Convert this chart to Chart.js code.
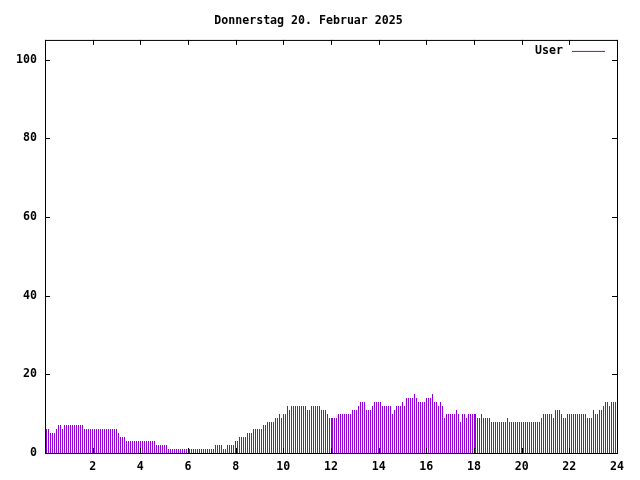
<!DOCTYPE html>
<html>
<head>
<meta charset="utf-8">
<script src="https://cdn.jsdelivr.net/npm/chart.js@4/dist/chart.umd.min.js"></script>
<style>
  body { margin: 0; background: #fff; }
  canvas { display: block; }
</style>
</head>
<body>
<canvas id="user-chart" width="640" height="480"></canvas>
<script>
// 5-minute samples, one array per 4 hours
const users00to04 = [6,6,5,5,5,6,7,7,6,7,7,7,7,7,7,7,7,7,7,6,6,6,6,6,6,6,6,6,6,6,6,6,6,6,6,6,5,4,4,4,3,3,3,3,3,3,3,3];
const users04to08 = [3,3,3,3,3,3,3,2,2,2,2,2,2,1,1,1,1,1,1,1,1,1,1,1,1,1,1,1,1,1,1,1,1,1,1,1,1,2,2,2,2,1,1,2,2,2,2,3];
const users08to12 = [3,4,4,4,4,5,5,5,6,6,6,6,6,7,7,8,8,8,8,9,9,10,9,10,10,12,11,12,12,12,12,12,12,12,12,11,11,12,12,12,12,12,11,11,11,10,9,9];
const users12to16 = [9,9,9,10,10,10,10,10,10,10,11,11,11,12,13,13,13,11,11,11,12,13,13,13,13,12,12,12,12,12,10,11,12,12,12,13,12,14,14,14,14,15,14,13,13,13,13,14];
const users16to20 = [14,14,15,13,13,12,13,12,9,10,10,10,10,10,11,10,8,10,10,9,10,10,10,10,10,9,9,10,9,9,9,9,8,8,8,8,8,8,8,8,9,8,8,8,8,8,8,8];
const users20to24 = [8,8,8,8,8,8,8,8,8,9,10,10,10,10,10,9,11,11,11,10,9,9,10,10,10,10,10,10,10,10,10,10,9,9,9,11,10,10,11,11,12,13,13,12,13,13,13,13];

const seriesLabel = 'User';
const chartTitle = 'Donnerstag 20. Februar 2025';
const yTicks = [0, 20, 40, 60, 80, 100];
const xTicks = [0, 2, 4, 6, 8, 10, 12, 14, 16, 18, 20, 22, 24];

const PURPLE = '#9400d3';
const FONT = { family: "'DejaVu Sans Mono', monospace", size: 11.6, weight: 'bold' };

document.addEventListener('DOMContentLoaded', main);

function main() {
  const values = [].concat(users00to04, users04to08, users08to12, users12to16, users16to20, users20to24);
  const points = values.map((v, i) => ({ x: (i + 1) / 12, y: v }));
  renderChart(points);
}

// snap the 1px bars to whole pixels so they stay crisp like gnuplot impulses
const crispBars = {
  id: 'crispBars',
  beforeDatasetsDraw(chart) {
    chart.getDatasetMeta(0).data.forEach(bar => {
      bar.x = Math.floor(bar.x) + 0.5;
      bar.y = Math.round(bar.y);
      bar.base = Math.round(bar.base);
    });
  }
};

// gnuplot style frame with inward ticks and a key in the corner
const framePlugin = {
  id: 'frame',
  afterDraw(chart) {
    const { ctx, chartArea: a, scales } = chart;
    ctx.save();
    ctx.strokeStyle = '#000';
    ctx.lineWidth = 1;
    ctx.strokeRect(a.left + 0.5, a.top + 0.5, a.right - a.left, a.bottom - a.top);
    ctx.beginPath();
    yTicks.forEach(v => {
      const y = Math.round(scales.y.getPixelForValue(v)) + 0.5;
      ctx.moveTo(a.left, y); ctx.lineTo(a.left + 5, y);
      ctx.moveTo(a.right, y); ctx.lineTo(a.right - 5, y);
    });
    xTicks.forEach(v => {
      const x = Math.round(scales.x.getPixelForValue(v)) + 0.5;
      ctx.moveTo(x, a.bottom); ctx.lineTo(x, a.bottom - 5);
      ctx.moveTo(x, a.top); ctx.lineTo(x, a.top + 5);
    });
    ctx.stroke();

    ctx.font = `${FONT.weight} ${FONT.size}px ${FONT.family}`;
    ctx.fillStyle = '#000';
    ctx.textAlign = 'right';
    ctx.textBaseline = 'middle';
    ctx.fillText(seriesLabel, a.right - 54, a.top + 11);
    ctx.strokeStyle = PURPLE;
    ctx.beginPath();
    ctx.moveTo(a.right - 45, a.top + 11.5);
    ctx.lineTo(a.right - 12, a.top + 11.5);
    ctx.stroke();
    ctx.restore();
  }
};

function renderChart(points) {
  const ctx = document.querySelector('#user-chart').getContext('2d');
  new Chart(ctx, {
    type: 'bar',
    data: {
      datasets: [{
        label: seriesLabel,
        data: points,
        backgroundColor: PURPLE,
        borderWidth: 0,
        inflateAmount: 0,
        barThickness: 1
      }]
    },
    options: {
      responsive: false,
      animation: false,
      layout: { padding: { left: 0, right: 23, top: 0, bottom: 0 } },
      plugins: {
        legend: { display: false },
        tooltip: { enabled: false },
        title: {
          display: true,
          text: chartTitle,
          color: '#000',
          font: FONT,
          padding: { top: 14, bottom: 12 }
        }
      },
      scales: {
        x: {
          type: 'linear',
          min: 0,
          max: 24,
          offset: false,
          grid: { display: false, drawTicks: false },
          border: { display: false },
          afterBuildTicks: scale => { scale.ticks = xTicks.map(v => ({ value: v })); },
          afterFit: scale => { scale.height = 27; },
          ticks: {
            color: '#000',
            font: FONT,
            padding: 7,
            maxRotation: 0,
            autoSkip: false,
            callback: v => (v === 0 ? '' : v)
          }
        },
        y: {
          min: 0,
          max: 105,
          grid: { display: false, drawTicks: false },
          border: { display: false },
          afterBuildTicks: scale => { scale.ticks = yTicks.map(v => ({ value: v })); },
          afterFit: scale => { scale.width = 45; },
          ticks: { color: '#000', font: FONT, padding: 8 }
        }
      }
    },
    plugins: [crispBars, framePlugin]
  });
}
</script>
</body>
</html>
